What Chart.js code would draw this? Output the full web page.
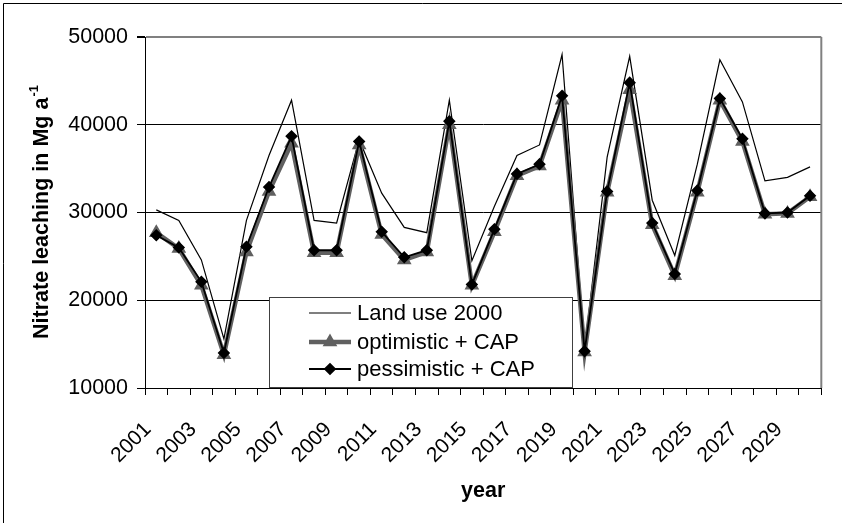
<!DOCTYPE html>
<html>
<head>
<meta charset="utf-8">
<script src="https://cdn.jsdelivr.net/npm/chart.js@4"></script>
<style>
  html, body { margin: 0; padding: 0; background: #fff; }
  canvas { display: block; }
</style>
</head>
<body>
<canvas id="myChart" width="842" height="523"></canvas>
<script>
// data
const years = [2001, 2002, 2003, 2004, 2005, 2006, 2007, 2008, 2009, 2010,
  2011, 2012, 2013, 2014, 2015, 2016, 2017, 2018, 2019, 2020,
  2021, 2022, 2023, 2024, 2025, 2026, 2027, 2028, 2029, 2030];
const landUse2000 = [30300, 29100, 24600, 15600, 29100, 36500, 42800, 29100, 28800, 38300,
  32200, 28300, 27700, 42800, 24500, 30700, 36500, 37700, 48000, 14500,
  36300, 47800, 31400, 25100, 35500, 47400, 42600, 33600, 34000, 35200];
const optimisticCAP = [27700, 25900, 21700, 13800, 25500, 32400, 37900, 25400, 25400, 37700,
  27500, 24600, 25500, 40000, 21700, 27800, 34200, 35300, 42800, 14100,
  32300, 44000, 28600, 22800, 32300, 42800, 38100, 29800, 29900, 31800];
const pessimisticCAP = [27400, 26000, 22100, 14000, 26100, 32900, 38700, 25700, 25700, 38100,
  27800, 24900, 25700, 40400, 21800, 28100, 34400, 35500, 43300, 14200,
  32400, 44800, 28800, 23000, 32500, 43000, 38400, 29900, 30000, 31900];
const yTicks = [10000, 20000, 30000, 40000, 50000];

const FONT = 'Liberation Sans, Arial, sans-serif';

// frame, plot border, y title and legend box like the excel original
const decor = {
  id: 'decor',
  beforeDraw(chart) {
    const ctx = chart.ctx;
    ctx.save();
    ctx.fillStyle = '#fff';
    ctx.fillRect(0, 0, chart.width, chart.height);
    ctx.strokeStyle = '#000';
    ctx.lineWidth = 1;
    ctx.beginPath();
    ctx.moveTo(3.5, chart.height);
    ctx.lineTo(3.5, 3.5);
    ctx.lineTo(chart.width, 3.5);
    ctx.stroke();
    ctx.restore();
  },
  afterDraw(chart) {
    const ctx = chart.ctx;
    const a = chart.chartArea;
    ctx.save();
    // right border of plot area
    ctx.strokeStyle = '#808080';
    ctx.lineWidth = 2;
    ctx.beginPath();
    ctx.moveTo(a.right, a.top);
    ctx.lineTo(a.right, a.bottom);
    ctx.stroke();

    // y title with superscript
    const main = 'Nitrate leaching in Mg a';
    const sup = '-1';
    ctx.font = 'bold 21.5px ' + FONT;
    const w1 = ctx.measureText(main).width;
    ctx.font = 'bold 13px ' + FONT;
    const w2 = ctx.measureText(sup).width;
    const total = w1 + w2;
    ctx.translate(48, (a.top + a.bottom) / 2);
    ctx.rotate(-Math.PI / 2);
    ctx.fillStyle = '#000';
    ctx.textBaseline = 'alphabetic';
    ctx.textAlign = 'left';
    ctx.font = 'bold 21.5px ' + FONT;
    ctx.fillText(main, -total / 2, 0);
    ctx.font = 'bold 13px ' + FONT;
    ctx.fillText(sup, -total / 2 + w1 + 1, -10);
    ctx.restore();

    // legend
    const box = {x: 269.5, y: 297.5, w: 303, h: 90};
    ctx.save();
    ctx.fillStyle = '#fff';
    ctx.fillRect(box.x, box.y, box.w, box.h);
    ctx.strokeStyle = '#404040';
    ctx.lineWidth = 1;
    ctx.strokeRect(box.x, box.y, box.w, box.h);
    const rows = [313, 342, 369];
    const x0 = 309, x1 = 351;
    chart.data.datasets.forEach((ds, i) => {
      const y = rows[i];
      ctx.strokeStyle = ds.borderColor;
      ctx.lineWidth = ds.borderWidth;
      ctx.beginPath();
      ctx.moveTo(x0, y);
      ctx.lineTo(x1, y);
      ctx.stroke();
      if (ds.pointRadius > 0) {
        ctx.fillStyle = ds.pointBackgroundColor;
        ctx.strokeStyle = ds.pointBorderColor;
        Chart.helpers.drawPoint(ctx, {
          pointStyle: ds.pointStyle,
          radius: ds.pointRadius,
          borderWidth: 1,
          rotation: 0
        }, (x0 + x1) / 2, y);
      }
      ctx.fillStyle = '#000';
      ctx.font = '22px ' + FONT;
      ctx.textBaseline = 'middle';
      ctx.textAlign = 'left';
      ctx.fillText(ds.label, 357, y + 1);
    });
    ctx.restore();
  }
};

const config = {
  type: 'line',
  data: {
    labels: years,
    datasets: [{
      label: 'Land use 2000',
      data: landUse2000,
      borderColor: '#000',
      borderWidth: 1.2,
      pointRadius: 0,
      tension: 0,
      order: 2
    }, {
      label: 'optimistic + CAP',
      data: optimisticCAP,
      borderColor: '#606060',
      backgroundColor: '#606060',
      borderWidth: 4.5,
      pointStyle: 'triangle',
      pointRadius: 4,
      pointBorderColor: '#606060',
      pointBackgroundColor: '#606060',
      tension: 0,
      order: 1
    }, {
      label: 'pessimistic + CAP',
      data: pessimisticCAP,
      borderColor: '#000',
      backgroundColor: '#000',
      borderWidth: 1.8,
      pointStyle: 'rectRot',
      pointRadius: 5,
      pointBorderColor: '#000',
      pointBackgroundColor: '#000',
      tension: 0,
      order: 0
    }]
  },
  options: {
    responsive: false,
    animation: false,
    layout: {
      padding: {top: 37, right: 4, left: 4, bottom: 0}
    },
    plugins: {
      legend: false,
      tooltip: {enabled: false}
    },
    events: [],
    scales: {
      x: {
        type: 'category',
        offset: true,
        afterFit(scale) { scale.height = 135; },
        grid: {
          offset: true,
          drawOnChartArea: false,
          drawTicks: true,
          tickLength: 7,
          color: '#000',
          tickColor: '#000'
        },
        border: {display: true, color: '#000', width: 1},
        ticks: {
          autoSkip: false,
          maxRotation: 45,
          minRotation: 45,
          padding: 14,
          color: '#000',
          font: {family: FONT, size: 21},
          // trailing space pulls the label a bit left/down like the original
          callback: (v, i) => (i % 2 === 0 ? years[i] + '  ' : '')
        },
        title: {
          display: true,
          text: 'year',
          color: '#000',
          font: {family: FONT, size: 21.5, weight: 'bold'},
          padding: {top: 0, bottom: 19}
        }
      },
      y: {
        min: yTicks[0],
        max: yTicks[yTicks.length - 1],
        afterFit(scale) { scale.width = 141; },
        afterBuildTicks(scale) {
          scale.ticks = yTicks.map(v => ({value: v}));
        },
        grid: {
          color: ctx => (ctx.tick && ctx.tick.value === 50000 ? '#808080' : '#000'),
          lineWidth: ctx => (ctx.tick && ctx.tick.value === 50000 ? 2 : 1),
          tickColor: '#000',
          tickLength: 8
        },
        border: {display: true, color: '#000', width: 1},
        ticks: {
          padding: 9,
          color: '#000',
          font: {family: FONT, size: 21.5},
          callback: v => String(v)
        }
      }
    }
  },
  plugins: [decor]
};

const myChart = new Chart(document.getElementById('myChart'), config);
</script>
</body>
</html>
